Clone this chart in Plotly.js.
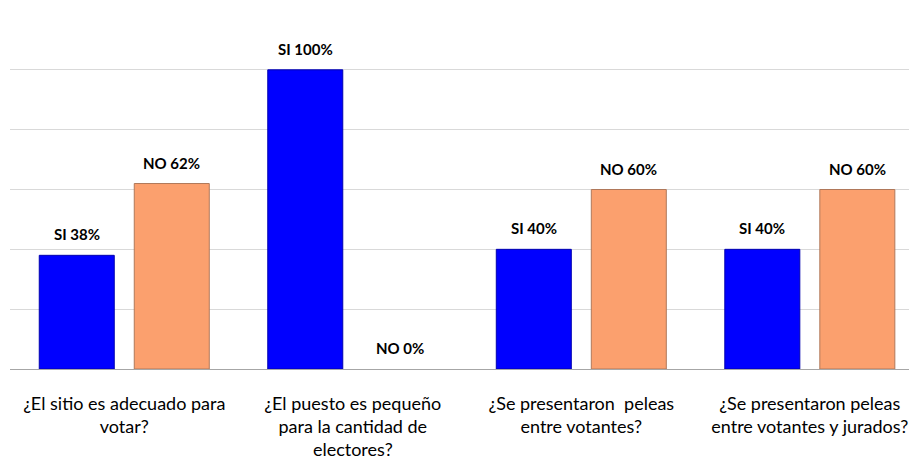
<!DOCTYPE html>
<html>
<head>
<meta charset="utf-8">
<script src="https://cdn.plot.ly/plotly-3.0.1.min.js"></script>
<style>html,body{margin:0;padding:0;background:#fff;}#chart{width:909px;height:458px;}</style>
</head>
<body>
<div id="chart"></div>
<script>
const categories = [
  "¿El sitio es adecuado para<br>votar?",
  "¿El puesto es pequeño<br>para la cantidad de<br>electores?",
  "¿Se presentaron  peleas<br>entre votantes?",
  "¿Se presentaron peleas<br>entre votantes y jurados?"
];
const siValues = [38, 100, 40, 40];
const noValues = [62, 0, 60, 60];
const siLabel = "SI";
const noLabel = "NO";

const xIdx = categories.map((c, i) => i);

const traces = [
  {
    type: "bar", name: siLabel, x: xIdx, y: siValues,
    marker: {color: "#0000FF", line: {color: "#0000B0", width: siValues.map(v => v > 0 ? 1 : 0)}},
    hoverinfo: "skip"
  },
  {
    type: "bar", name: noLabel, x: xIdx, y: noValues,
    marker: {color: "#FBA06E", line: {color: "#B0785A", width: noValues.map(v => v > 0 ? 1 : 0)}},
    hoverinfo: "skip"
  }
];

const annotations = [];
const labelFont = {family: "Lato, 'Open Sans', sans-serif", size: 15, color: "#000"};
siValues.forEach((v, i) => annotations.push({
  x: i, y: v, xref: "x", yref: "y", text: "<b>" + siLabel + " " + v + "%</b>",
  showarrow: false, xshift: -47.5, yshift: 21, font: labelFont
}));
noValues.forEach((v, i) => annotations.push({
  x: i, y: v, xref: "x", yref: "y", text: "<b>" + noLabel + " " + v + "%</b>",
  showarrow: false, xshift: 47.5, yshift: 21, font: labelFont
}));

const layout = {
  width: 909, height: 458,
  margin: {l: 10, r: 0, t: 10, b: 89},
  paper_bgcolor: "#fff", plot_bgcolor: "#fff",
  showlegend: false,
  barmode: "group", bargap: 0.1685, bargroupgap: 0.2105,
  xaxis: {
    type: "linear", range: [-0.5, 3.434],
    tickmode: "array", tickvals: xIdx, ticktext: categories,
    showgrid: false, zeroline: false,
    showline: true, linecolor: "#A6A6A6", linewidth: 1,
    ticks: "", ticklabelstandoff: 18,
    tickfont: {family: "Lato, 'Open Sans', sans-serif", size: 18, color: "#000"}
  },
  yaxis: {
    range: [0, 120], dtick: 20, showticklabels: false,
    showgrid: true, gridcolor: "#D9D9D9", gridwidth: 1,
    zeroline: false, showline: false, ticks: ""
  },
  annotations: annotations
};

Plotly.newPlot("chart", traces, layout, {staticPlot: true, displayModeBar: false});
</script>
</body>
</html>
